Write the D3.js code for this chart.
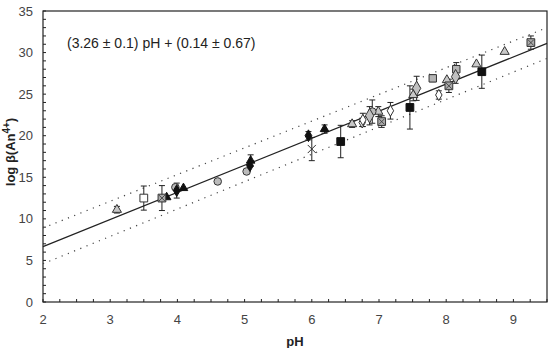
<!DOCTYPE html>
<html>
<head>
<meta charset="utf-8">
<script src="https://cdn.jsdelivr.net/npm/d3@7"></script>
<style>
  body { margin: 0; background: #fff; }
  svg { display: block; font-family: "Liberation Sans", Arial, sans-serif; }
</style>
</head>
<body>
<svg id="chart" width="553" height="348"></svg>
<script>
// fit from the equation in the plot
const slope = 3.26, intercept = 0.14;
const upperBand = [[2, 8.9], [9.5, 33.0]];
const lowerBand = [[2, 4.6], [9.5, 29.3]];

const xTicks = [2, 3, 4, 5, 6, 7, 8, 9];
const yTicks = [0, 5, 10, 15, 20, 25, 30, 35];

// [pH, log beta, error]
const grayTriangles = [[3.10, 11.1, 0.4], [6.60, 21.4, 0.4], [6.99, 22.9, 0.6], [7.51, 24.9, 0.7], [8.01, 26.7, 0], [8.45, 28.6, 0], [8.87, 30.1, 0]];
const blackTriangles = [[3.84, 12.6, 0], [4.09, 13.7, 0], [5.09, 17.0, 0.7], [6.19, 20.8, 0.5]];
const openSquares = [[3.50, 12.5, 1.45]];
const crossSquares = [[3.77, 12.5, 1.5], [7.04, 21.7, 0.7], [8.04, 26.0, 0.8], [9.26, 31.2, 0.8]];
const blackSquares = [[6.43, 19.3, 1.95], [7.46, 23.4, 2.6], [8.53, 27.7, 2.0]];
const graySquares = [[7.80, 26.9, 0.4], [8.15, 28.0, 0.8]];
const grayCircles = [[3.97, 13.8, 0], [4.60, 14.5, 0], [5.03, 15.7, 0], [6.90, 22.9, 1.4]];
const blackDiamonds = [[3.99, 13.4, 0.9], [5.08, 16.4, 0], [5.95, 20.0, 0.5]];
const grayDiamonds = [[6.86, 22.4, 1.1], [7.56, 25.7, 1.45], [8.14, 27.1, 0.8]];
const openDiamonds = [[6.75, 21.6, 0.5], [6.76, 21.9, 0.8], [7.17, 23.0, 1.0], [7.89, 24.9, 0.5]];
const crosses = [[6.00, 18.4, 1.4]];

const svg = d3.select('#chart');
const margin = { top: 11, right: 6, bottom: 46, left: 43 };
const width = 553 - margin.left - margin.right;
const height = 348 - margin.top - margin.bottom;

const x = d3.scaleLinear().domain([2, 9.5]).range([0, width]);
const y = d3.scaleLinear().domain([0, 35]).range([height, 0]);

const g = svg.append('g').attr('transform', `translate(${margin.left},${margin.top})`);

// minor ticks (inward)
g.append('g').selectAll('line').data(d3.range(2, 9.5001, 0.25)).join('line')
  .attr('x1', d => x(d)).attr('x2', d => x(d))
  .attr('y1', height).attr('y2', height - 3)
  .attr('stroke', '#222').attr('stroke-width', 1);
g.append('g').selectAll('line').data(d3.range(0, 35.001, 1)).join('line')
  .attr('x1', 0).attr('x2', 3)
  .attr('y1', d => y(d)).attr('y2', d => y(d))
  .attr('stroke', '#222').attr('stroke-width', 1);

// tick labels
g.append('g').selectAll('text').data(xTicks).join('text')
  .attr('x', d => x(d)).attr('y', height + 22)
  .attr('text-anchor', 'middle').attr('font-size', 13).attr('fill', '#444')
  .text(d => d);
g.append('g').selectAll('text').data(yTicks).join('text')
  .attr('x', -10).attr('y', d => y(d) + 4.5)
  .attr('text-anchor', 'end').attr('font-size', 13).attr('fill', '#444')
  .text(d => d);

// frame
g.append('rect').attr('width', width).attr('height', height)
  .attr('fill', 'none').attr('stroke', '#222').attr('stroke-width', 1.2);

const line = d3.line().x(d => x(d[0])).y(d => y(d[1]));

[upperBand, lowerBand].forEach(b => {
  g.append('path').datum(b).attr('d', line)
    .attr('fill', 'none').attr('stroke', '#444').attr('stroke-width', 1.2)
    .attr('stroke-dasharray', '1.2,5.5');
});

g.append('path').datum([[2, slope * 2 + intercept], [9.5, slope * 9.5 + intercept]])
  .attr('d', line).attr('fill', 'none').attr('stroke', '#222').attr('stroke-width', 1.2);

// error bars
const allPts = [].concat(grayTriangles, blackTriangles, openSquares, crossSquares, blackSquares,
  graySquares, grayCircles, blackDiamonds, grayDiamonds, openDiamonds, crosses).filter(d => d[2] > 0);
const eb = g.append('g').attr('stroke', '#222').attr('stroke-width', 1);
allPts.forEach(d => {
  const cx = x(d[0]);
  eb.append('line').attr('x1', cx).attr('x2', cx).attr('y1', y(d[1] - d[2])).attr('y2', y(d[1] + d[2]));
  eb.append('line').attr('x1', cx - 3).attr('x2', cx + 3).attr('y1', y(d[1] + d[2])).attr('y2', y(d[1] + d[2]));
  eb.append('line').attr('x1', cx - 3).attr('x2', cx + 3).attr('y1', y(d[1] - d[2])).attr('y2', y(d[1] - d[2]));
});

function drawMarkers(data, shape, size, fill, stroke) {
  g.append('g').selectAll('path').data(data).join('path')
    .attr('transform', d => `translate(${x(d[0])},${y(d[1])})`)
    .attr('d', d3.symbol().type(shape).size(size))
    .attr('fill', fill).attr('stroke', stroke).attr('stroke-width', 1);
}

drawMarkers(grayTriangles, d3.symbolTriangle, 36, '#c8c8c8', '#333');
drawMarkers(blackTriangles, d3.symbolTriangle, 32, '#111', '#111');
drawMarkers(openSquares, d3.symbolSquare, 60, '#fff', '#333');
drawMarkers(crossSquares, d3.symbolSquare, 60, '#aaa', '#333');
drawMarkers(blackSquares, d3.symbolSquare, 60, '#111', '#111');
drawMarkers(graySquares, d3.symbolSquare, 55, '#b4b4b4', '#333');
drawMarkers(grayCircles, d3.symbolCircle, 45, '#bbb', '#333');
drawMarkers(blackDiamonds, d3.symbolDiamond, 40, '#111', '#111');
drawMarkers(grayDiamonds, d3.symbolDiamond, 60, '#c0c0c0', '#333');
drawMarkers(openDiamonds, d3.symbolDiamond, 36, '#fff', '#333');

// cross pattern inside the hatched squares
crossSquares.forEach(d => {
  const cx = x(d[0]), cy = y(d[1]);
  g.append('path').attr('d', `M${cx - 3},${cy - 3}L${cx + 3},${cy + 3}M${cx + 3},${cy - 3}L${cx - 3},${cy + 3}`)
    .attr('stroke', '#333').attr('stroke-width', 0.8);
});

drawMarkers(crosses, d3.symbolX, 45, 'none', '#333');

// equation
g.append('text').attr('x', 24).attr('y', 37)
  .attr('font-size', 14).attr('fill', '#222')
  .text('(3.26 ± 0.1) pH + (0.14 ± 0.67)');

// axis titles
svg.append('text').attr('x', margin.left + width / 2).attr('y', 346)
  .attr('text-anchor', 'middle').attr('font-size', 13).attr('font-weight', 'bold').attr('fill', '#222')
  .text('pH');

const yt = svg.append('text').attr('transform', 'translate(15,152) rotate(-90)')
  .attr('text-anchor', 'middle').attr('font-size', 13).attr('font-weight', 'bold').attr('fill', '#222');
yt.append('tspan').text('log β(An');
yt.append('tspan').attr('dy', -5).attr('font-size', 10).text('4+');
yt.append('tspan').attr('dy', 5).text(')');
</script>
</body>
</html>
